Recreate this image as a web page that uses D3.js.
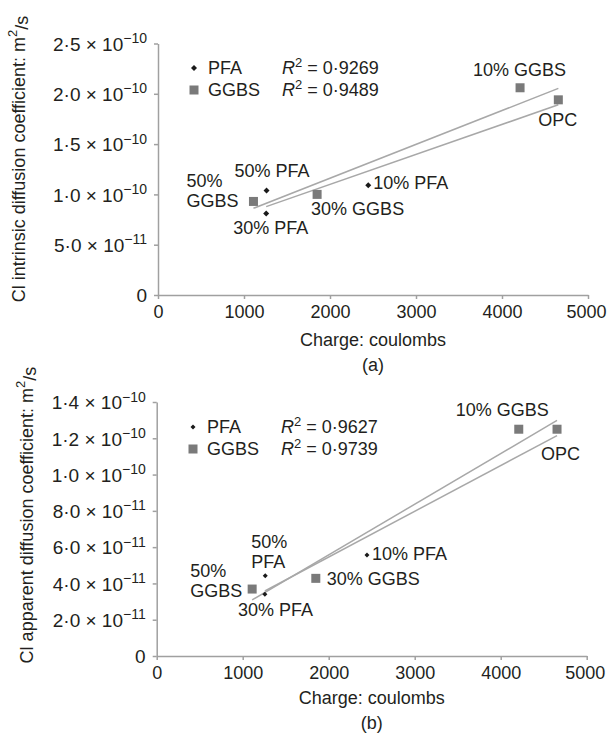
<!DOCTYPE html>
<html><head><meta charset="utf-8">
<script src="https://cdn.jsdelivr.net/npm/d3@7"></script>
<style>
html,body{margin:0;padding:0;background:#fff;}
svg text{font-family:"Liberation Sans",Arial,Helvetica,sans-serif;fill:#231f20;}
</style></head>
<body><svg id="c" width="607" height="737"></svg>
<script>
// ---------- data ----------
const xTicks = [0, 1000, 2000, 3000, 4000, 5000];

const pfaMixes = ["OPC", "10% PFA", "30% PFA", "50% PFA"];
const pfaCharge = [4655, 2445, 1258, 1262];
const pfaIntrinsic = [1.94e-10, 1.09e-10, 0.81e-10, 1.04e-10];
const pfaApparent = [1.25e-10, 0.557e-10, 0.34e-10, 0.443e-10];

const ggbsMixes = ["OPC", "10% GGBS", "30% GGBS", "50% GGBS"];
const ggbsCharge = [4655, 4210, 1850, 1110];
const ggbsIntrinsic = [1.94e-10, 2.06e-10, 1.00e-10, 0.93e-10];
const ggbsApparent = [1.25e-10, 1.25e-10, 0.428e-10, 0.369e-10];

const r2Intrinsic = ["0·9269", "0·9489"];
const r2Apparent = ["0·9627", "0·9739"];

const yTicksA = [0, 5e-11, 1e-10, 1.5e-10, 2e-10, 2.5e-10];
const yTickMantA = ["0", "5·0", "1·0", "1·5", "2·0", "2·5"];
const yTickExpA = ["", "−11", "−10", "−10", "−10", "−10"];

const yTicksB = [0, 2e-11, 4e-11, 6e-11, 8e-11, 1e-10, 1.2e-10, 1.4e-10];
const yTickMantB = ["0", "2·0", "4·0", "6·0", "8·0", "1·0", "1·2", "1·4"];
const yTickExpB = ["", "−11", "−11", "−11", "−11", "−10", "−10", "−10"];

// ---------- layout (label offsets in px, relative to marker) ----------
const labelOffsetsA = {
  "OPC": [[-20, 26]], "10% GGBS": [[-47, -12]], "30% GGBS": [[-6, 21]],
  "50% GGBS": [[-67, -14, "50%"], [-67, 6, "GGBS"]],
  "10% PFA": [[5, 4]], "30% PFA": [[-33, 20]], "50% PFA": [[-32, -13]]
};
const labelOffsetsB = {
  "OPC": [[-16, 31]], "10% GGBS": [[-63, -13]], "30% GGBS": [[11, 7]],
  "50% GGBS": [[-62, -12, "50%"], [-62, 8, "GGBS"]],
  "10% PFA": [[5, 5]], "30% PFA": [[-27, 22]],
  "50% PFA": [[-14, -28, "50%"], [-14, -8, "PFA"]]
};

const svg = d3.select("#c");
const FS = 18;
const axisColor = "#a0a0a0";

function regress(xs, ys) {
  const mx = d3.mean(xs), my = d3.mean(ys);
  let sxy = 0, sxx = 0;
  xs.forEach((x, i) => { sxy += (x - mx) * (ys[i] - my); sxx += (x - mx) * (x - mx); });
  const b = sxy / sxx;
  return { b, a: my - b * mx };
}

function diamondPath(r) {
  return `M0,${-r}L${r},0L0,${r}L${-r},0Z`;
}

function drawChart(cfg) {
  const g = svg.append("g");
  const x = d3.scaleLinear().domain([0, 5000]).range([cfg.x0, cfg.x1]);
  const y = d3.scaleLinear().domain([0, cfg.yMax]).range([cfg.y0, cfg.y1]);

  // x axis
  const xa = g.append("g").attr("transform", `translate(0,${cfg.y0})`)
    .call(d3.axisBottom(x).tickValues(xTicks).tickFormat(d3.format("d"))
      .tickSize(4).tickSizeOuter(0).tickPadding(6));
  xa.select(".domain").attr("stroke", axisColor).attr("stroke-width", 1.5);
  xa.selectAll(".tick line").attr("stroke", axisColor).attr("stroke-width", 1.5);
  xa.selectAll(".tick text").attr("font-size", FS).attr("font-family", null).attr("fill", "#231f20")
    .attr("dx", (d, i) => i === xTicks.length - 1 ? -2 : 0);

  // y axis
  const ya = g.append("g").attr("transform", `translate(${cfg.x0},0)`)
    .call(d3.axisLeft(y).tickValues(cfg.yTicks).tickSize(4).tickSizeOuter(0).tickPadding(7));
  ya.select(".domain").attr("stroke", axisColor).attr("stroke-width", 1.5);
  ya.selectAll(".tick line").attr("stroke", axisColor).attr("stroke-width", 1.5);
  ya.selectAll(".tick text").attr("font-family", null).attr("fill", "#231f20")
    .attr("font-size", 19).attr("dy", "0.36em")
    .each(function (d, i) {
      const t = d3.select(this).text(null);
      const m = cfg.mant[i], e = cfg.exp[i];
      if (!e) { t.text(m); return; }
      t.append("tspan").text(m + " × 10");
      t.append("tspan").attr("font-size", 14).attr("dy", "-0.55em").text(e);
    });

  // axis titles
  g.append("text").attr("x", (cfg.x0 + cfg.x1) / 2).attr("y", cfg.y0 + cfg.xTitleDy)
    .attr("text-anchor", "middle").attr("font-size", FS).text("Charge: coulombs");
  g.append("text").attr("x", (cfg.x0 + cfg.x1) / 2).attr("y", cfg.y0 + cfg.capDy)
    .attr("text-anchor", "middle").attr("font-size", FS).text(cfg.caption);
  const yt = g.append("text")
    .attr("transform", `translate(${cfg.yTitleX},${cfg.yTitleY}) rotate(-90)`)
    .attr("text-anchor", "middle").attr("font-size", FS);
  yt.append("tspan").text(cfg.yTitle + " m");
  yt.append("tspan").attr("font-size", 13).attr("dy", "-0.6em").text("2");
  yt.append("tspan").attr("dy", "0.6em").text("/s");

  // trend lines
  [[pfaCharge, cfg.pfa], [ggbsCharge, cfg.ggbs]].forEach(([xs, ys]) => {
    const r = regress(xs, ys);
    const xmin = d3.min(xs), xmax = d3.max(xs);
    g.append("line")
      .attr("x1", x(xmin)).attr("y1", y(r.a + r.b * xmin))
      .attr("x2", x(xmax)).attr("y2", y(r.a + r.b * xmax))
      .attr("stroke", "#a8a8a8").attr("stroke-width", 1.5);
  });

  // PFA markers (small diamonds)
  g.selectAll(".pfa").data(pfaMixes).join("path")
    .attr("d", diamondPath(cfg.dR))
    .attr("transform", (d, i) => `translate(${x(pfaCharge[i])},${y(cfg.pfa[i])})`)
    .attr("fill", "#1a1a1a");
  // GGBS markers (squares)
  const sq = 9;
  g.selectAll(".ggbs").data(ggbsMixes).join("rect")
    .attr("x", (d, i) => x(ggbsCharge[i]) - sq / 2)
    .attr("y", (d, i) => y(cfg.ggbs[i]) - sq / 2)
    .attr("width", sq).attr("height", sq).attr("fill", "#7a7a7a");

  // labels
  const pts = [];
  pfaMixes.forEach((m, i) => { if (m !== "OPC") pts.push([m, x(pfaCharge[i]), y(cfg.pfa[i])]); });
  ggbsMixes.forEach((m, i) => pts.push([m, x(ggbsCharge[i]), y(cfg.ggbs[i])]));
  pts.forEach(([m, px, py]) => {
    cfg.offsets[m].forEach(o => {
      g.append("text").attr("x", px + o[0]).attr("y", py + o[1])
        .attr("font-size", FS).text(o[2] || m);
    });
  });

  // legend
  const lx = cfg.legX, ly = cfg.legY;
  g.append("path").attr("d", diamondPath(cfg.dR))
    .attr("transform", `translate(${lx},${ly})`).attr("fill", "#1a1a1a");
  g.append("rect").attr("x", lx - 4.5).attr("y", ly + 22 - 4.5).attr("width", 9).attr("height", 9)
    .attr("fill", "#7a7a7a");
  [["PFA", cfg.r2[0]], ["GGBS", cfg.r2[1]]].forEach(([name, r2], k) => {
    const by = ly + 6 + k * 22;
    g.append("text").attr("x", lx + 14).attr("y", by).attr("font-size", FS).text(name);
    const t = g.append("text").attr("x", lx + 88).attr("y", by).attr("font-size", FS);
    t.append("tspan").attr("font-style", "italic").text("R");
    t.append("tspan").attr("font-size", 13).attr("dy", "-0.55em").text("2");
    t.append("tspan").attr("dy", "0.4em").text(" = " + r2);
  });
}

drawChart({
  x0: 158, x1: 588, y0: 295, y1: 43.5, yMax: 2.5e-10,
  yTicks: yTicksA, mant: yTickMantA, exp: yTickExpA,
  pfa: pfaIntrinsic, ggbs: ggbsIntrinsic, r2: r2Intrinsic,
  offsets: labelOffsetsA, dR: 3,
  xTitleDy: 51, capDy: 76, caption: "(a)",
  yTitle: "Cl intrinsic diffusion coefficient:", yTitleX: 25, yTitleY: 159,
  legX: 194, legY: 68
});
drawChart({
  x0: 156.7, x1: 586.7, y0: 656, y1: 402, yMax: 1.4e-10,
  yTicks: yTicksB, mant: yTickMantB, exp: yTickExpB,
  pfa: pfaApparent, ggbs: ggbsApparent, r2: r2Apparent,
  offsets: labelOffsetsB, dR: 2.5,
  xTitleDy: 48, capDy: 73, caption: "(b)",
  yTitle: "Cl apparent diffusion coefficient:", yTitleX: 33, yTitleY: 515,
  legX: 193, legY: 427
});
</script></body></html>
